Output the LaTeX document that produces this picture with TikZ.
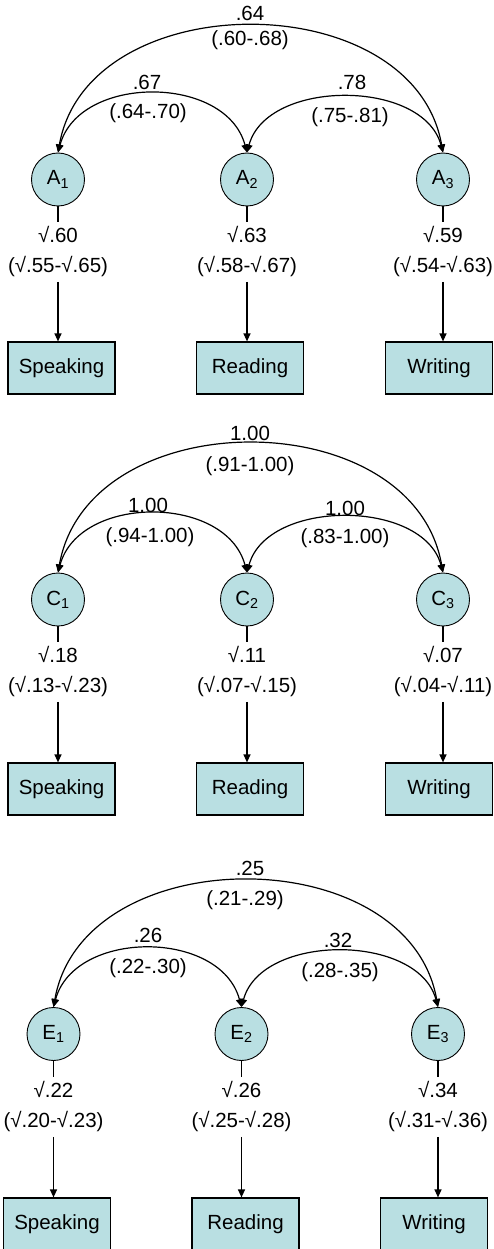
\documentclass[tikz,border=0pt]{standalone}
\usepackage{fontspec}
\setmainfont{Liberation Sans}
\usetikzlibrary{arrows.meta}
\definecolor{boxfill}{RGB}{185,223,226}

\begin{document}
\begin{tikzpicture}[x=1pt, y=-1pt, line width=1.2pt,
    font=\fontsize{20.5}{30}\selectfont,
    latent/.style={circle, draw, fill=boxfill, minimum size=53pt, inner sep=0pt, line width=0.9pt},
    observed/.style={rectangle, draw, fill=boxfill, minimum width=107pt, minimum height=52pt, inner sep=0pt},
    load/.style={align=center, inner sep=4pt},
    >={Triangle[length=8pt,width=7pt]}]

    \useasboundingbox (0,0) rectangle (494,1249);

    % agreement
    \node[latent] (A1) at (58,179.5) {A\textsubscript{1}};
    \node[latent] (A2) at (247,179.5) {A\textsubscript{2}};
    \node[latent] (A3) at (443,179.5) {A\textsubscript{3}};

    \draw[<->] (A1.north) to[out=80, in=100, looseness=1.14] (A3.north);
    \draw[<->] (A1.north) to[out=75, in=105, looseness=1.1] (A2.north);
    \draw[<->] (A2.north) to[out=75, in=105, looseness=1.0] (A3.north);

    \node (rA13) at (250,13) {.64};
    \node (ciA13) at (250,40) {(.60-.68)};
    \node (rA12) at (147,82) {.67};
    \node (ciA12) at (148,113) {(.64-.70)};
    \node (rA23) at (352,82) {.78};
    \node (ciA23) at (350,117) {(.75-.81)};

    \node[load] (lA1) at (58,252) {√.60\\(√.55-√.65)};
    \node[load] (lA2) at (247,252) {√.63\\(√.58-√.67)};
    \node[load] (lA3) at (443,252) {√.59\\(√.54-√.63)};

    \node[observed] (sA) at (61.5,368) {Speaking};
    \node[observed] (rA) at (250,368) {Reading};
    \node[observed] (wA) at (439,368) {Writing};

    \draw (A1) -- (lA1);
    \draw (A2) -- (lA2);
    \draw (A3) -- (lA3);
    \draw[->] (lA1) -- (lA1 |- sA.north);
    \draw[->] (lA2) -- (lA2 |- rA.north);
    \draw[->] (lA3) -- (lA3 |- wA.north);

    % communalities
    \node[latent] (C1) at (58,599.5) {C\textsubscript{1}};
    \node[latent] (C2) at (247,599.5) {C\textsubscript{2}};
    \node[latent] (C3) at (443,599.5) {C\textsubscript{3}};

    \draw[<->] (C1.north) to[out=80, in=100, looseness=1.16] (C3.north);
    \draw[<->] (C1.north) to[out=75, in=105, looseness=1.1] (C2.north);
    \draw[<->] (C2.north) to[out=75, in=105, looseness=1.0] (C3.north);

    \node (rC13) at (250,433) {1.00};
    \node (ciC13) at (250,466) {(.91-1.00)};
    \node (rC12) at (148,505) {1.00};
    \node (ciC12) at (150,537) {(.94-1.00)};
    \node (rC23) at (345,508) {1.00};
    \node (ciC23) at (345,538) {(.83-1.00)};

    \node[load] (lC1) at (58,672) {√.18\\(√.13-√.23)};
    \node[load] (lC2) at (247,672) {√.11\\(√.07-√.15)};
    \node[load] (lC3) at (443,672) {√.07\\(√.04-√.11)};

    \node[observed] (sC) at (61.5,789) {Speaking};
    \node[observed] (rC) at (250,789) {Reading};
    \node[observed] (wC) at (439,789) {Writing};

    \draw (C1) -- (lC1);
    \draw (C2) -- (lC2);
    \draw (C3) -- (lC3);
    \draw[->] (lC1) -- (lC1 |- sC.north);
    \draw[->] (lC2) -- (lC2 |- rC.north);
    \draw[->] (lC3) -- (lC3 |- wC.north);

    % errors
    \node[latent] (E1) at (53.5,1034) {E\textsubscript{1}};
    \node[latent] (E2) at (241.5,1034) {E\textsubscript{2}};
    \node[latent] (E3) at (438,1034) {E\textsubscript{3}};

    \draw[<->] (E1.north) to[out=80, in=100, looseness=1.14] (E3.north);
    \draw[<->] (E1.north) to[out=75, in=105, looseness=1.1] (E2.north);
    \draw[<->] (E2.north) to[out=75, in=105, looseness=1.0] (E3.north);

    \node (rE13) at (250,868) {.25};
    \node (ciE13) at (245,900) {(.21-.29)};
    \node (rE12) at (148,935) {.26};
    \node (ciE12) at (148,968) {(.22-.30)};
    \node (rE23) at (338,940) {.32};
    \node (ciE23) at (340,972) {(.28-.35)};

    \node[load] (lE1) at (53.5,1107) {√.22\\(√.20-√.23)};
    \node[load] (lE2) at (241.5,1107) {√.26\\(√.25-√.28)};
    \node[load] (lE3) at (438,1107) {√.34\\(√.31-√.36)};

    \node[observed] (sE) at (57,1224) {Speaking};
    \node[observed] (rE) at (245.5,1224) {Reading};
    \node[observed] (wE) at (434,1224) {Writing};

    \draw (E1) -- (lE1);
    \draw (E2) -- (lE2);
    \draw (E3) -- (lE3);
    \draw[->] (lE1) -- (lE1 |- sE.north);
    \draw[->] (lE2) -- (lE2 |- rE.north);
    \draw[->] (lE3) -- (lE3 |- wE.north);

\end{tikzpicture}
\end{document}
